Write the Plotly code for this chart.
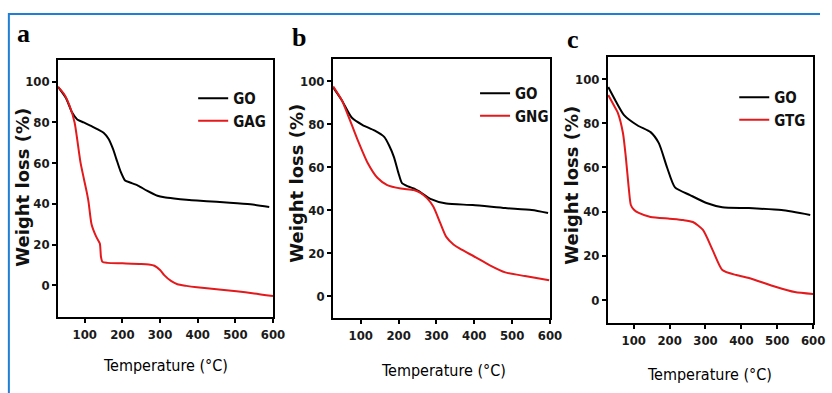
import plotly.graph_objects as go

# ---- TGA data (temperature in °C, residual weight in %) ----
go_temp = [29, 50, 66, 80, 97, 120, 136, 150, 163, 175, 184, 195, 207, 220, 241, 265, 293, 311, 337, 370, 398, 450, 485, 540, 590]
go_a = [97.5, 92, 85, 81.5, 80, 78, 76.5, 75, 72, 67, 62, 56, 51.5, 50.5, 49, 46.5, 44, 43.2, 42.6, 42, 41.6, 41, 40.6, 39.8, 38.5]

gag_temp = [29, 45, 60, 73, 89, 105, 110, 118, 130, 140, 143, 147, 160, 200, 250, 270, 285, 300, 311, 330, 346, 370, 398, 450, 503, 550, 600]
gag_w = [97.5, 94, 88, 80, 60, 46, 41, 30, 24, 20.5, 14, 11.5, 11, 10.8, 10.5, 10.2, 9.6, 7.5, 5, 2, 0.5, -0.3, -1, -2, -3, -4, -5.3]

go_b_temp = [27, 50, 76, 105, 136, 162, 175, 188, 200, 209, 225, 240, 260, 284, 326, 396, 482, 552, 595]
go_b = [97, 91, 83, 79.5, 77, 74, 70, 64.5, 57, 52.5, 51, 50, 48, 45.2, 43, 42.3, 40.9, 40, 38.6]

gng_temp = [27, 50, 71, 92, 118, 144, 170, 206, 240, 258, 275, 292, 310, 326, 345, 362, 404, 440, 482, 534, 598]
gng_w = [97.5, 91, 82, 72.5, 62, 55, 51.6, 50, 49.3, 48, 45.5, 41.5, 34, 27.5, 24, 22, 18, 14.4, 11, 9.3, 7.4]

go_c_temp = [29, 50, 73, 111, 147, 170, 193, 215, 257, 303, 347, 421, 512, 592]
go_c = [96.4, 90, 83.7, 79, 76, 71, 60, 51, 47.5, 43.9, 42, 41.6, 40.7, 38.5]

gtg_temp = [29, 45, 56, 70, 78, 86, 92, 100, 114, 147, 200, 238, 265, 293, 320, 347, 386, 421, 495, 549, 600]
gtg_w = [92.8, 88, 84.6, 75.6, 64.7, 51, 43, 41, 39.4, 37.6, 36.8, 36.2, 35.3, 31.7, 22.6, 13.6, 11.3, 10, 6, 3.6, 2.7]

x_ticks = [100, 200, 300, 400, 500, 600]
y_ticks = [0, 20, 40, 60, 80, 100]

panel_letters = ["a", "b", "c"]
sample_names = ["GAG", "GNG", "GTG"]
reference_name = "GO"

W, H = 832, 393

# panel boxes in pixels: (left, right, top, bottom), axis ranges
panels = [
    dict(box=(59, 277, 60, 317), xr=[29.3, 600], yr=[-15.6, 110.7]),
    dict(box=(338, 558, 59, 318), xr=[27, 600], yr=[-10.2, 110.2]),
    dict(box=(617, 825, 57, 323), xr=[28.6, 600], yr=[-10.4, 110]),
]
series = [
    (go_temp, go_a, gag_temp, gag_w),
    (go_b_temp, go_b, gng_temp, gng_w),
    (go_c_temp, go_c, gtg_temp, gtg_w),
]
legend_pos = [(196, 82), (482, 77), (745, 81)]
letter_pos = [(24, 33), (303, 38), (581, 39)]
xtitle_pos = [(168, 365), (450, 370), (720, 374)]
ytitle_pos = [(22, 187), (300, 183), (580, 185)]

narrow = "DejaVu Sans Condensed, Liberation Sans Narrow, Arial Narrow, sans-serif"

fig = go.Figure()
layout = dict(
    width=W, height=H, margin=dict(l=0, r=0, t=0, b=0),
    paper_bgcolor="white", plot_bgcolor="white",
    showlegend=True, annotations=[],
)

for i, (p, s) in enumerate(zip(panels, series)):
    n = "" if i == 0 else str(i + 1)
    xa, ya = "x" + n, "y" + n
    lg = "legend" + n
    l, r, t, b = p["box"]
    axis_common = dict(
        showgrid=False, zeroline=False, showline=True, linecolor="black",
        linewidth=2, mirror=True, ticks="outside", ticklen=4, tickwidth=1.5,
        tickcolor="black",
        tickfont=dict(family=narrow, size=13, color="#1a1a1a", weight=700),
    )
    layout["xaxis" + n] = dict(axis_common, domain=[l / W, r / W], range=p["xr"],
                                tickvals=x_ticks, anchor=ya)
    layout["yaxis" + n] = dict(axis_common, domain=[1 - b / H, 1 - t / H], range=p["yr"],
                                tickvals=y_ticks, anchor=xa)

    gx, gy, sx, sy = s
    fig.add_trace(go.Scatter(x=gx, y=gy, mode="lines", name=reference_name,
                             line=dict(color="black", width=2, shape="spline", smoothing=0.6),
                             xaxis=xa, yaxis=ya, legend=lg))
    fig.add_trace(go.Scatter(x=sx, y=sy, mode="lines", name=sample_names[i],
                             line=dict(color="#e3191c", width=2, shape="spline", smoothing=0.6),
                             xaxis=xa, yaxis=ya, legend=lg))

    lx, ly = legend_pos[i]
    layout[lg] = dict(x=lx / W, y=1 - ly / H, xanchor="left", yanchor="top",
                      bgcolor="rgba(0,0,0,0)", tracegroupgap=0, itemwidth=30,
                      font=dict(family=narrow, size=15, color="#111", weight="bold"))

    ax_, ay_ = letter_pos[i]
    layout["annotations"].append(dict(
        text=panel_letters[i], x=ax_ / W, y=1 - ay_ / H, xref="paper", yref="paper",
        showarrow=False, xanchor="center", yanchor="middle",
        font=dict(family="Liberation Serif, DejaVu Serif, serif", size=26, color="black", weight="bold")))
    tx, ty = xtitle_pos[i]
    layout["annotations"].append(dict(
        text="Temperature (°C)", x=tx / W, y=1 - ty / H, xref="paper", yref="paper",
        showarrow=False, xanchor="center", yanchor="middle",
        font=dict(family=narrow, size=16, color="#000")))
    yx, yy = ytitle_pos[i]
    layout["annotations"].append(dict(
        text="Weight loss (%)", x=yx / W, y=1 - yy / H, xref="paper", yref="paper",
        showarrow=False, textangle=-90, xanchor="center", yanchor="middle",
        font=dict(family="DejaVu Sans, Verdana, sans-serif", size=18, color="#111", weight="bold")))

# blue frame along the left and top edges
layout["shapes"] = [dict(type="path",
                         path=f"M {9/W} 0 L {9/W} {1-14/H} L 1 {1-14/H}",
                         xref="paper", yref="paper", line=dict(color="#1f7fd6", width=2))]

fig.update_layout(**layout)
fig.write_html("out.html")
